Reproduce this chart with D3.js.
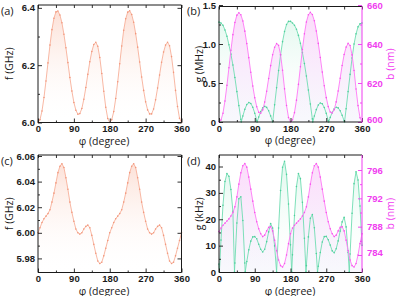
<!DOCTYPE html>
<html>
<head>
<meta charset="utf-8">
<script src="https://cdn.jsdelivr.net/npm/d3@7"></script>
<style>
  body { margin: 0; background: #fff; }
  svg { display: block; font-family: "Open Sans", sans-serif; }
</style>
</head>
<body>
<svg id="chart" width="397" height="296"></svg>
<script>
// DATA
// angle grid (degree)
const phi = [0,5,10,15,20,25,30,35,40,45,50,55,60,65,70,75,80,85,90,95,100,105,110,115,120,125,130,135,140,145,150,155,160,165,170,175,180,
             185,190,195,200,205,210,215,220,225,230,235,240,245,250,255,260,265,270,275,280,285,290,295,300,305,310,315,320,325,330,335,340,345,350,355,360];

// (a) frequency f (GHz)
const fA = [6.000,6.010,6.040,6.087,6.145,6.208,6.270,6.324,6.364,6.386,6.389,6.375,6.348,6.308,6.261,6.209,6.157,6.110,6.070,6.043,
            6.029,6.031,6.049,6.081,6.122,6.168,6.212,6.248,6.272,6.280,6.266,6.227,6.171,6.109,6.053,6.014,6.000,
            6.010,6.038,6.084,6.142,6.205,6.267,6.322,6.362,6.385,6.390,6.377,6.350,6.310,6.263,6.211,6.159,6.112,6.072,6.044,6.030,
            6.030,6.047,6.079,6.120,6.166,6.210,6.246,6.270,6.280,6.268,6.230,6.175,6.112,6.056,6.015,6.000];

// (b) coupling g (MHz) and b (nm)
const gB = [1.28,1.27,1.24,1.18,1.10,0.99,0.87,0.73,0.57,0.39,0.21,0.035,0.077,0.162,0.223,0.249,0.238,0.19,0.113,0.02,
            0.063,0.133,0.181,0.2,0.187,0.144,0.078,0.0,0.22,0.44,0.66,0.86,1.03,1.16,1.25,1.29,1.29,
            1.27,1.24,1.19,1.11,1.01,0.89,0.75,0.59,0.41,0.23,0.04,0.076,0.159,0.218,0.244,0.233,0.186,0.111,0.019,0.059,
            0.123,0.169,0.189,0.181,0.144,0.086,0.015,0.17,0.39,0.61,0.82,1.0,1.13,1.22,1.26,1.27];
const gBZeros = [56,96,236,276,316];
const bB = [600.0,601.0,604.5,610.8,618.8,627.8,636.8,644.8,651.0,654.8,656.0,655.0,651.8,646.6,640.2,633.0,625.5,618.5,612.4,607.8,
            605.0,604.5,606.2,610.2,615.8,622.3,628.9,634.5,638.3,640.2,639.3,634.5,626.5,617.0,608.5,602.3,600.0,
            601.1,604.8,611.2,619.3,628.3,637.2,645.2,651.3,655.0,656.2,655.1,651.9,646.7,640.3,633.1,625.6,618.6,612.5,607.9,605.1,
            604.6,606.3,610.3,615.9,622.4,629.0,634.6,638.4,640.3,639.2,634.4,626.4,616.9,608.4,602.2,600.0];

// (c) frequency f (GHz)
const fC = [6.000,6.004,6.008,6.011,6.013,6.015,6.018,6.024,6.031,6.039,6.047,6.052,6.054,6.051,6.043,6.034,6.024,6.016,6.009,6.003,
            6.000,5.999,6.000,6.003,6.005,6.006,6.004,5.998,5.991,5.984,5.978,5.976,5.977,5.982,5.988,5.994,6.000,
            6.004,6.008,6.011,6.013,6.015,6.018,6.024,6.031,6.039,6.047,6.052,6.054,6.051,6.043,6.034,6.024,6.016,6.009,6.003,6.000,
            5.999,6.000,6.003,6.005,6.006,6.004,5.998,5.991,5.984,5.978,5.976,5.977,5.982,5.988,5.994,6.000];

// (d) coupling g (kHz) and b (nm)
const gD = [3.0,12.1,25.3,34.3,37.3,36.3,31.3,23.0,3.4,18.6,27.8,28.5,19.5,3.4,4.0,8.4,11.7,13.3,13.4,12.6,
            10.5,8.6,7.6,8.6,11.5,15.2,18.4,16.7,9.9,0.0,16.7,30.9,39.7,42.0,37.0,25.8,10.3,
            6.5,21.4,32.4,37.3,35.4,26.4,12.8,2.4,13.3,20.4,21.8,16.8,7.0,2.2,7.4,11.4,13.4,13.5,12.2,10.2,
            8.0,7.3,8.8,11.8,15.5,19.0,20.7,17.1,7.4,6.8,22.3,33.5,38.0,34.9,25.0,10.1];
const gDZeros = [1,39,66,183,219,248,328];
const bD = [787.3,787.8,788.2,788.5,788.8,789.1,789.5,790.0,790.8,792.2,794.0,795.6,796.6,796.9,796.4,795.0,793.3,791.6,790.0,788.7,
            787.7,787.0,786.6,786.8,787.4,787.9,788.0,787.4,786.1,784.6,783.3,782.5,782.3,782.8,784.0,785.6,787.0,
            787.8,788.2,788.5,788.8,789.1,789.5,790.0,790.8,792.2,794.0,795.6,796.6,796.9,796.4,795.0,793.3,791.6,790.0,788.7,787.7,
            787.0,786.6,786.8,787.4,787.9,788.0,787.4,786.1,784.6,783.3,782.5,782.3,782.8,784.0,785.6,787.0];

// tick values
const phiTicks = [0, 90, 180, 270, 360];
const phiMinor = [45, 135, 225, 315];
const fATicks = [6.0, 6.2, 6.4];
const gBTicks = [0, 0.5, 1.0, 1.5];
const bBTicks = [600, 620, 640, 660];
const fCTicks = [5.98, 6.00, 6.02, 6.04, 6.06];
const gDTicks = [0, 10, 20, 30, 40];
const bDTicks = [784, 788, 792, 796];

// COLOURS
const orange = {line: "#f7b09a", dot: "#f2977b", top: "#f7a88c", topOp: 0.4,  bot: "#ffffff", botOp: 0};
const green  = {line: "#70ddb2", dot: "#4fd09c", top: "#8fe4bf", topOp: 0.32, bot: "#ffffff", botOp: 0};
const pink   = {line: "#ff78f6", dot: "#f657ec", top: "#f79af3", topOp: 0.38, bot: "#e3e6f7", botOp: 0.25};
const pinkAxis = "#f03cf0";

const svg = d3.select("#chart");
const defs = svg.append("defs");
let gradCount = 0;

// vertical gradient from plot top to plot bottom
const makeGrad = (c, top, bottom) => {
    const id = `grad${gradCount++}`;
    const lg = defs.append("linearGradient")
        .attr("id", id)
        .attr("gradientUnits", "userSpaceOnUse")
        .attr("x1", 0).attr("x2", 0)
        .attr("y1", top).attr("y2", bottom);
    lg.append("stop").attr("offset", 0).attr("stop-color", c.top).attr("stop-opacity", c.topOp);
    lg.append("stop").attr("offset", 1).attr("stop-color", c.bot).attr("stop-opacity", c.botOp);
    return `url(#${id})`;
};

// merge grid values with extra zero points
const toPoints = (vals, zeros = []) => {
    const pts = phi.map((p, i) => ({x: p, y: vals[i]}));
    zeros.forEach(z => pts.push({x: z, y: 0}));
    return pts.sort((a, b) => a.x - b.x);
};

const styleAxis = (sel, color) => {
    sel.select(".domain").remove();
    sel.selectAll("line").attr("stroke", color).attr("stroke-width", 0.9);
    sel.selectAll("text").attr("fill", color).style("font-size", "9.5px").style("font-weight", 600);
};

const drawPanel = (cfg) => {
    const g = svg.append("g");
    const x = d3.scaleLinear().domain([0, 360]).range([cfg.left, cfg.right]);
    const yL = d3.scaleLinear().domain(cfg.yDomain).range(cfg.yRange);
    const yR = cfg.rDomain ? d3.scaleLinear().domain(cfg.rDomain).range(cfg.rRange) : null;

    const prepared = cfg.series.map(s => ({
        ...s,
        y: s.right ? yR : yL,
        pts: toPoints(s.vals, s.zeros)
    }));

    // fills
    prepared.forEach(s => {
        const area = d3.area().x(d => x(d.x)).y0(cfg.bottom).y1(d => s.y(d.y));
        g.append("path").attr("d", area(s.pts)).attr("fill", makeGrad(s.color, cfg.top, cfg.bottom));
    });

    // lines and markers
    prepared.forEach(s => {
        const line = d3.line().x(d => x(d.x)).y(d => s.y(d.y));
        g.append("path").attr("d", line(s.pts))
            .attr("fill", "none").attr("stroke", s.color.line).attr("stroke-width", 0.9);
        g.append("g").selectAll("circle")
            .data(s.pts)
            .enter().append("circle")
            .attr("cx", d => x(d.x))
            .attr("cy", d => s.y(d.y))
            .attr("r", 0.8)
            .attr("fill", s.color.dot);
    });

    // x axes (bottom with labels, top ticks only)
    const xb = g.append("g").attr("transform", `translate(0,${cfg.bottom})`)
        .call(d3.axisBottom(x).tickValues(phiTicks).tickSize(-4).tickPadding(3));
    styleAxis(xb, "#1a1a1a");
    const xbm = g.append("g").attr("transform", `translate(0,${cfg.bottom})`)
        .call(d3.axisBottom(x).tickValues(phiMinor).tickSize(-2).tickFormat(""));
    styleAxis(xbm, "#1a1a1a");
    const xt = g.append("g").attr("transform", `translate(0,${cfg.top})`)
        .call(d3.axisTop(x).tickValues(phiTicks.concat(phiMinor)).tickSize(-3).tickFormat(""));
    styleAxis(xt, "#1a1a1a");

    // left axis
    const yl = g.append("g").attr("transform", `translate(${cfg.left},0)`)
        .call(d3.axisLeft(yL).tickValues(cfg.yTicks).tickSize(-4).tickPadding(3).tickFormat(cfg.yFormat));
    styleAxis(yl, "#1a1a1a");
    if (cfg.yMinor) {
        const ylm = g.append("g").attr("transform", `translate(${cfg.left},0)`)
            .call(d3.axisLeft(yL).tickValues(cfg.yMinor).tickSize(-2).tickFormat(""));
        styleAxis(ylm, "#1a1a1a");
    }

    // right axis
    const rightColor = yR ? pinkAxis : "#1a1a1a";
    if (yR) {
        const yr = g.append("g").attr("transform", `translate(${cfg.right},0)`)
            .call(d3.axisRight(yR).tickValues(cfg.rTicks).tickSize(-4).tickPadding(5).tickFormat(d3.format("d")));
        styleAxis(yr, pinkAxis);
        // lift the lowest label a little so it clears the "360" x label
        yr.selectAll(".tick text").attr("dy", (d, i) => i === 0 ? "0.1em" : "0.32em");
        const yrm = g.append("g").attr("transform", `translate(${cfg.right},0)`)
            .call(d3.axisRight(yR).tickValues(cfg.rMinor).tickSize(-2).tickFormat(""));
        styleAxis(yrm, pinkAxis);
    } else {
        const yr = g.append("g").attr("transform", `translate(${cfg.right},0)`)
            .call(d3.axisRight(yL).tickValues(cfg.yTicks).tickSize(-4).tickFormat(""));
        styleAxis(yr, "#1a1a1a");
    }

    // frame
    const frame = [
        [cfg.left, cfg.top, cfg.right, cfg.top, "#1a1a1a"],
        [cfg.left, cfg.bottom, cfg.right, cfg.bottom, "#1a1a1a"],
        [cfg.left, cfg.top, cfg.left, cfg.bottom, "#1a1a1a"],
        [cfg.right, cfg.top, cfg.right, cfg.bottom, rightColor]
    ];
    frame.forEach(([x1, y1, x2, y2, c]) => {
        g.append("line").attr("x1", x1).attr("y1", y1).attr("x2", x2).attr("y2", y2)
            .attr("stroke", c).attr("stroke-width", 1);
    });

    // titles
    g.append("text").attr("x", cfg.titleX).attr("y", cfg.bottom + 22)
        .attr("text-anchor", "middle").style("font-size", "10.5px").attr("fill", "#1a1a1a")
        .text("φ (degree)");
    g.append("text")
        .attr("transform", `translate(${cfg.yTitleX},${(cfg.top + cfg.bottom) / 2}) rotate(-90)`)
        .attr("text-anchor", "middle").attr("dy", "0.35em").style("font-size", "10.5px").attr("fill", "#1a1a1a")
        .text(cfg.yTitle);
    if (yR) {
        g.append("text")
            .attr("transform", `translate(${cfg.rTitleX},${(cfg.top + cfg.bottom) / 2}) rotate(-90)`)
            .attr("text-anchor", "middle").attr("dy", "0.35em").style("font-size", "10.5px").attr("fill", pinkAxis)
            .text(cfg.rTitle);
    }
    g.append("text").attr("x", cfg.labelX).attr("y", cfg.labelY)
        .style("font-size", "11px").attr("fill", "#1a1a1a").text(cfg.label);
};

// PANELS
drawPanel({
    label: "(a)", labelX: 1, labelY: 15,
    left: 38, right: 181.5, top: 5, bottom: 122.5,
    yDomain: [6.0, 6.41], yRange: [122.5, 5], yTicks: fATicks, yMinor: [6.1, 6.3], yFormat: d3.format(".1f"),
    yTitle: "f (GHz)", yTitleX: 9, titleX: 104,
    series: [{vals: fA, color: orange}]
});

drawPanel({
    label: "(b)", labelX: 187, labelY: 15,
    left: 219, right: 362, top: 6.5, bottom: 122,
    yDomain: [0, 1.5], yRange: [122, 5], yTicks: gBTicks, yMinor: [0.25, 0.75, 1.25], yFormat: d => d === 0 ? "0" : d3.format(".1f")(d),
    rDomain: [600, 660], rRange: [122, 5], rTicks: bBTicks, rMinor: [610, 630, 650],
    yTitle: "g (MHz)", yTitleX: 199, rTitle: "b (nm)", rTitleX: 390, titleX: 290,
    series: [{vals: gB, zeros: gBZeros, color: green}, {vals: bB, right: true, color: pink}]
});

drawPanel({
    label: "(c)", labelX: 1, labelY: 165,
    left: 38, right: 181.5, top: 155, bottom: 272.5,
    yDomain: [5.969, 6.06], yRange: [272.5, 156], yTicks: fCTicks, yMinor: [5.99, 6.01, 6.03, 6.05], yFormat: d3.format(".2f"),
    yTitle: "f (GHz)", yTitleX: 9, titleX: 104,
    series: [{vals: fC, color: orange}]
});

drawPanel({
    label: "(d)", labelX: 187, labelY: 165,
    left: 219, right: 362, top: 155, bottom: 272.5,
    yDomain: [0, 40], yRange: [272, 166.5], yTicks: gDTicks, yMinor: [5, 15, 25, 35], yFormat: d3.format("d"),
    rDomain: [784, 796], rRange: [255, 170], rTicks: bDTicks, rMinor: [786, 790, 794],
    yTitle: "g (kHz)", yTitleX: 199, rTitle: "b (nm)", rTitleX: 390, titleX: 290,
    series: [{vals: gD, zeros: gDZeros, color: green}, {vals: bD, right: true, color: pink}]
});
</script>
</body>
</html>
